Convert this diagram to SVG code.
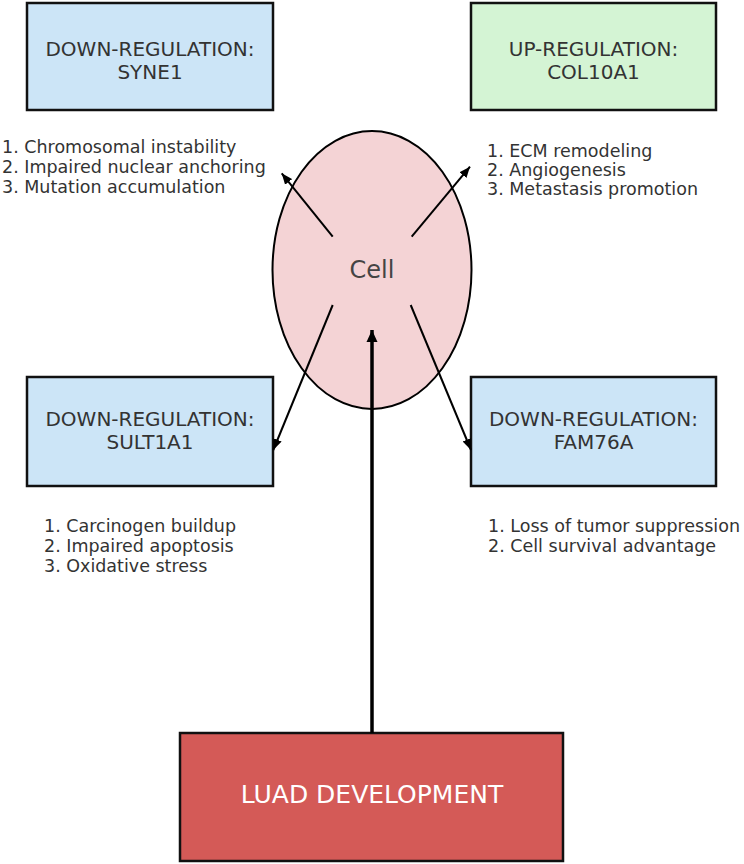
<svg xmlns="http://www.w3.org/2000/svg" width="744" height="864" viewBox="0 0 744 864">
<defs>
<style>
.box{stroke:#111;stroke-width:2.5}
.blue{fill:#cce5f7}
.green{fill:#d4f4d4}
.title{font-family:"DejaVu Sans",sans-serif;font-size:20px;fill:#333;text-anchor:middle}
.list{font-family:"DejaVu Sans",sans-serif;font-size:17.5px;fill:#333}
.conn{stroke:#000;stroke-width:2;fill:none}
</style>
<marker id="ah" markerUnits="userSpaceOnUse" markerWidth="12" markerHeight="10" refX="11" refY="5" orient="auto">
<path d="M0,0.5 L11,5 L0,9.5 Z" fill="#000"/>
</marker>
<marker id="ahb" markerUnits="userSpaceOnUse" markerWidth="14" markerHeight="12" refX="12" refY="6" orient="auto">
<path d="M0,0.5 L12,6 L0,11.5 Z" fill="#000"/>
</marker>
</defs>
<rect width="744" height="864" fill="#fff"/>
<g id="cell">
<ellipse cx="372" cy="270" rx="99.5" ry="139" fill="#f4d3d5" stroke="#000" stroke-width="2"/>
<text x="372" y="278" font-family="DejaVu Sans,sans-serif" font-size="24" fill="#444" text-anchor="middle">Cell</text>
</g>
<g id="syne1">
<rect class="box blue" x="27" y="3" width="246" height="107"/>
<text class="title" x="150" y="56">DOWN-REGULATION:</text>
<text class="title" x="150" y="79">SYNE1</text>
</g>
<g id="col10a1">
<rect class="box green" x="471" y="3" width="245" height="107"/>
<text class="title" x="593.5" y="56">UP-REGULATION:</text>
<text class="title" x="593.5" y="79">COL10A1</text>
</g>
<g id="sult1a1">
<rect class="box blue" x="27" y="377" width="246" height="109"/>
<text class="title" x="150" y="426">DOWN-REGULATION:</text>
<text class="title" x="150" y="449">SULT1A1</text>
</g>
<g id="fam76a">
<rect class="box blue" x="471" y="377" width="245" height="109"/>
<text class="title" x="593.5" y="426">DOWN-REGULATION:</text>
<text class="title" x="593.5" y="449">FAM76A</text>
</g>
<g id="luad">
<rect x="180" y="733" width="383" height="128" fill="#d45a57" stroke="#111" stroke-width="2.5"/>
<text x="372" y="803" font-family="DejaVu Sans,sans-serif" font-size="25" fill="#fff" text-anchor="middle">LUAD DEVELOPMENT</text>
</g>
<g id="syne1-effects" class="list">
<text x="2" y="153">1. Chromosomal instability</text>
<text x="2" y="173">2. Impaired nuclear anchoring</text>
<text x="2" y="193">3. Mutation accumulation</text>
</g>
<g id="col10a1-effects" class="list">
<text x="487" y="157">1. ECM remodeling</text>
<text x="487" y="176">2. Angiogenesis</text>
<text x="487" y="195">3. Metastasis promotion</text>
</g>
<g id="sult1a1-effects" class="list">
<text x="44" y="532">1. Carcinogen buildup</text>
<text x="44" y="552">2. Impaired apoptosis</text>
<text x="44" y="572">3. Oxidative stress</text>
</g>
<g id="fam76a-effects" class="list">
<text x="488" y="532">1. Loss of tumor suppression</text>
<text x="488" y="552">2. Cell survival advantage</text>
</g>
<g id="connectors">
<line class="conn" x1="332.7" y1="236.7" x2="281.7" y2="173.3" marker-end="url(#ah)"/>
<line class="conn" x1="411.7" y1="236.7" x2="470" y2="166.7" marker-end="url(#ah)"/>
<line class="conn" x1="332.7" y1="305" x2="273.3" y2="450" marker-end="url(#ah)"/>
<line class="conn" x1="410.7" y1="305" x2="471" y2="450" marker-end="url(#ah)"/>
<line x1="372" y1="733" x2="372" y2="330" stroke="#000" stroke-width="3.5" marker-end="url(#ahb)"/>
</g>
</svg>
